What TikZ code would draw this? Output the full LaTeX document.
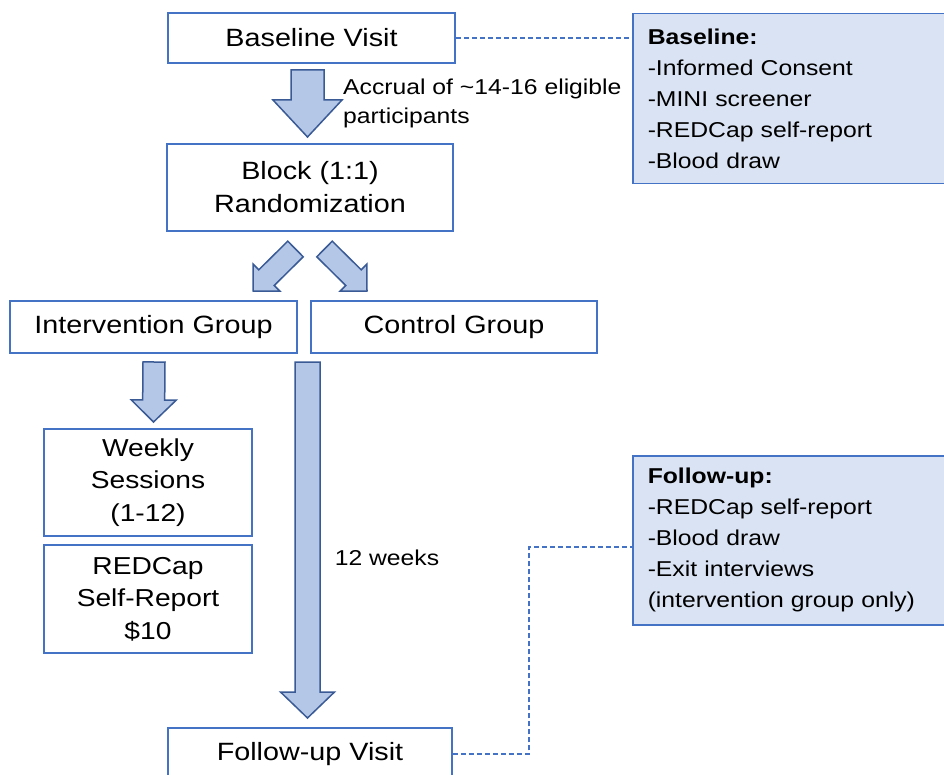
\documentclass[tikz,border=0pt]{standalone}
\usepackage{fontspec}
\setmainfont[FakeStretch=1.15]{Liberation Sans}
\usetikzlibrary{calc}
\definecolor{boxblue}{HTML}{4472C4}
\definecolor{infofill}{HTML}{DAE3F3}
\definecolor{arrfill}{HTML}{B4C7E7}
\definecolor{arrline}{HTML}{3A5A96}
\newcommand{\bigtxt}{\fontsize{25}{33}\selectfont}
\newcommand{\smalltxt}{\fontsize{21.5}{31}\selectfont}
% #1 name, #2 tail, #3 tip, #4 shaft half width, #5 head half width, #6 head length
\newcommand{\blockarr}[6]{%
  \coordinate (#1h) at ($(#3)!#6!(#2)$);
  \draw[barrow] ($(#2)!#4!90:(#3)$) -- ($(#1h)!#4!90:(#3)$) -- ($(#1h)!#5!90:(#3)$) -- (#3)
    -- ($(#1h)!#5!-90:(#3)$) -- ($(#1h)!#4!-90:(#3)$) -- ($(#2)!#4!-90:(#3)$) -- cycle;}
\tikzset{
  wbox/.style={draw=boxblue, line width=1.5pt, fill=white, inner sep=0pt, font=\bigtxt, align=center},
  ibox/.style={draw=boxblue, line width=1.5pt, fill=infofill, inner xsep=15pt, inner ysep=0pt,
    font=\smalltxt, align=left, text width=288pt, minimum height=170pt, anchor=north west},
  barrow/.style={draw=arrline, line width=1.5pt, fill=arrfill, line join=miter},
  dashlink/.style={draw=boxblue, line width=1.2pt, dash pattern=on 5pt off 3pt},
  plain/.style={inner sep=0pt, font=\smalltxt, align=left}
}
\begin{document}
\begin{tikzpicture}[x=1pt, y=-1pt]
\useasboundingbox[fill=white] (0,0) rectangle (944,775);
\clip (0,0) rectangle (944,775);

% boxes
\node[wbox, minimum width=287pt, minimum height=50pt] (bv) at (311.5,38) {Baseline Visit};
\node[wbox, minimum width=286pt, minimum height=87pt] (rand) at (310,187.5) {Block (1:1)\\Randomization};
\node[wbox, minimum width=287pt, minimum height=52pt] (ig) at (153.5,327) {Intervention Group};
\node[wbox, minimum width=286pt, minimum height=52pt] (cg) at (454,327) {Control Group};
\node[wbox, minimum width=208pt, minimum height=107pt, font=\fontsize{24.5}{32.5}\selectfont] (ws) at (148,482.5) {Weekly\\Sessions\\(1-12)};
\node[wbox, minimum width=208pt, minimum height=108pt, font=\fontsize{24.5}{32.5}\selectfont] (rc) at (148,599) {REDCap\\Self-Report\\\$10};
\node[wbox, minimum width=284pt, minimum height=52pt] (fv) at (310,754) {Follow-up Visit};

\node[ibox] (binfo) at (632,13) {\textbf{Baseline:}\\-Informed Consent\\-MINI screener\\-REDCap self-report\\-Blood draw};
\node[ibox, minimum height=169pt] (finfo) at (632,455) {\textbf{Follow-up:}\\-REDCap self-report\\-Blood draw\\-Exit interviews\\(intervention group only)};

% labels
\node[plain, anchor=west, font=\fontsize{21.5}{29}\selectfont] (accr) at (343,103) {Accrual of \textasciitilde14-16 eligible\\participants};
\node[plain] (wk) at (387,558) {12 weeks};

% block arrows
\coordinate (a1t) at (307.5,70);  \coordinate (a1e) at (307.5,137);
\coordinate (a2t) at (295.5,249); \coordinate (a2e) at (253,291);
\coordinate (a3t) at (324.5,249); \coordinate (a3e) at (367,291);
\coordinate (a4t) at (154,362);   \coordinate (a4e) at (153.5,422);
\coordinate (a5t) at (307.5,362); \coordinate (a5e) at (307.5,718);
\blockarr{a1}{a1t}{a1e}{16.5pt}{34.5pt}{37pt}
\blockarr{a2}{a2t}{a2e}{11pt}{19pt}{19pt}
\blockarr{a3}{a3t}{a3e}{11pt}{19pt}{19pt}
\blockarr{a4}{a4t}{a4e}{11pt}{22.5pt}{22pt}
\blockarr{a5}{a5t}{a5e}{12.5pt}{27pt}{26pt}

% dashed links
\draw[dashlink] (bv.east) -- (binfo.west |- bv.east);
\coordinate (fbend) at (529,547);
\draw[dashlink] (fv.east) -| (fbend) -- (finfo.west |- fbend);
\end{tikzpicture}
\end{document}
